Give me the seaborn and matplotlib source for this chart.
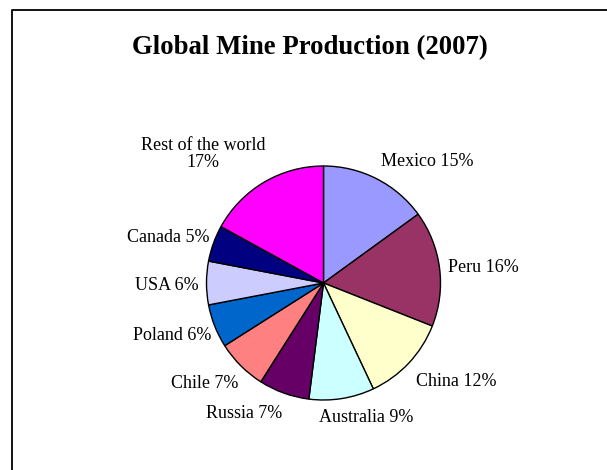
import matplotlib
matplotlib.use("Agg")
import matplotlib.pyplot as plt
import seaborn as sns
from matplotlib.lines import Line2D

sns.set_theme(style="white")
plt.rcParams['font.family'] = ['Liberation Serif', 'DejaVu Serif']

countries = ["Mexico", "Peru", "China", "Australia", "Russia", "Chile",
             "Poland", "USA", "Canada", "Rest of the world"]
shares = [15, 16, 12, 9, 7, 7, 6, 6, 5, 17]
colors = ["#9999FF", "#993366", "#FFFFCC", "#CCFFFF", "#660066", "#FF8080",
          "#0066CC", "#CCCCFF", "#000080", "#FF00FF"]
labels = ["Mexico 15%", "Peru 16%", "China 12%", "Australia 9%", "Russia 7%",
          "Chile 7%", "Poland 6%", "USA 6%", "Canada 5%", "Rest of the world\n17%"]
title = "Global Mine Production (2007)"

W, H = 607, 470
fig = plt.figure(figsize=(W / 100, H / 100), dpi=100)
fig.patch.set_facecolor("white")
ax = fig.add_axes([0, 0, 1, 1])

cx, cy, R = 323.5, 283, 117  # pie center / radius in pixels

ax.pie(shares, colors=colors, startangle=90, counterclock=False,
       wedgeprops=dict(edgecolor="black", linewidth=1.0))

def px(x, y):
    return ((x - cx) / R, (cy - y) / R)

label_px = [(427, 162), (483, 268), (456, 381), (366, 418), (244, 414),
            (205, 384), (172, 335), (167, 285), (168, 238), (203, 154)]
for lab, (x, y) in zip(labels, label_px):
    X, Y = px(x, y)
    ax.text(X, Y, lab, ha="center", va="center", fontsize=13,
            color="black", linespacing=1.05)

ax.set_xlim((0 - cx) / R, (W - cx) / R)
ax.set_ylim((cy - H) / R, (cy - 0) / R)
ax.set_aspect("auto")
ax.axis("off")

fig.text(310 / W, 1 - 48 / H, title, ha="center", va="center",
         fontsize=19.3, fontweight="bold", color="black")

# chart-area frame: only the left and top edges fall inside the picture
fx, fy = 11.5 / W, 1 - 9.5 / H
fig.lines.append(Line2D([fx, fx, 1.0], [0.0, fy, fy], transform=fig.transFigure,
                        color="black", linewidth=1.3))

fig.savefig("out.png", dpi=100, facecolor="white")
